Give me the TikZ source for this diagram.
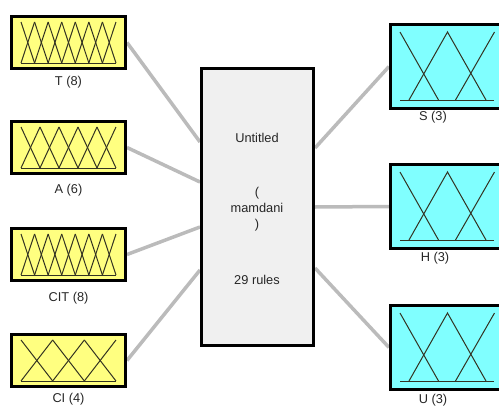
\documentclass[tikz,border=0pt]{standalone}
\usepackage{fontspec}
\setmainfont{Liberation Sans}
\usetikzlibrary{calc}
\definecolor{inyellow}{HTML}{FFFF80}
\definecolor{outcyan}{HTML}{80FFFF}
\definecolor{boxgray}{HTML}{F0F0F0}
\definecolor{linkgray}{HTML}{BBBBBB}
\definecolor{mfline}{HTML}{333322}
\tikzset{
  inbox/.style={draw=black, line width=3pt, fill=inyellow, minimum width=114pt, minimum height=52pt, inner sep=0pt},
  outbox/.style={draw=black, line width=3pt, fill=outcyan, minimum width=114pt, minimum height=84pt, inner sep=0pt},
  rulebox/.style={draw=black, line width=3pt, fill=boxgray, minimum width=112pt, minimum height=277pt, inner sep=0pt},
  link/.style={draw=linkgray, line width=3.5pt},
  lbl/.style={font=\fontsize{12.8}{15}\selectfont, text=black!85, inner sep=0pt},
  mf/.style={draw=mfline, line width=1pt}
}
\newcommand{\inmfs}[2]{% node name, number of MFs
  \begin{scope}[shift={(#1.center)}]
    \pgfmathsetmacro{\dd}{95/(#2-1)}
    \pgfmathtruncatemacro{\last}{#2-1}
    \draw[mf] (-47.5,20.5) -- (47.5,20.5);
    \foreach \i in {0,...,\last}{
      \pgfmathsetmacro{\px}{-47.5+\i*\dd}
      \ifnum\i>0 \draw[mf] (\px,-20.5) -- ({\px-\dd},20.5);\fi
      \ifnum\i<\last \draw[mf] (\px,-20.5) -- ({\px+\dd},20.5);\fi
    }
  \end{scope}}
\newcommand{\outmfs}[1]{%
  \begin{scope}[shift={(#1.center)}]
    \draw[mf] (-47.5,33.5) -- (46,33.5);
    \draw[mf] (-47.5,-34.5) -- (-9,33.5);
    \draw[mf] (-38.5,33.5) -- (0,-34.5) -- (38.5,33.5);
    \draw[mf] (8,33.5) -- (47,-34.5);
  \end{scope}}
\begin{document}
\begin{tikzpicture}[x=1pt,y=-1pt]
  \useasboundingbox (0,0) rectangle (499,407);
  \clip (0,0) rectangle (499,407);
  % nodes
  \node[inbox] (T) at (68.5,42.5) {};
  \node[inbox] (A) at (68.5,147.5) {};
  \node[inbox] (CIT) at (68.5,254.5) {};
  \node[inbox] (CI) at (68.5,360.5) {};
  \node[rulebox] (M) at (257.5,207) {};
  \node[outbox] (S) at (447.5,66.5) {};
  \node[outbox] (H) at (447.5,206.5) {};
  \node[outbox] (U) at (447.5,347.5) {};
  % connectors
  \draw[link] (T.east) -- ([yshift=65pt]M.west);
  \draw[link] (A.east) -- ([yshift=25pt]M.west);
  \draw[link] (CIT.east) -- ([yshift=-20pt]M.west);
  \draw[link] (CI.east) -- ([yshift=-63pt]M.west);
  \draw[link] ([yshift=59pt]M.east) -- (S.west);
  \draw[link] (M.east) -- (H.west);
  \draw[link] ([yshift=-61pt]M.east) -- (U.west);
  % redraw boxes on top of connectors
  \node[inbox] at (T) {};
  \node[inbox] at (A) {};
  \node[inbox] at (CIT) {};
  \node[inbox] at (CI) {};
  \node[rulebox] at (M) {};
  \node[outbox] at (S) {};
  \node[outbox] at (H) {};
  \node[outbox] at (U) {};
  % membership functions
  \inmfs{T}{8}
  \inmfs{A}{6}
  \inmfs{CIT}{8}
  \inmfs{CI}{4}
  \outmfs{S}
  \outmfs{H}
  \outmfs{U}
  % labels
  \node[lbl] (lT) at (68.5,82) {T (8)};
  \node[lbl] (lA) at (68.5,190) {A (6)};
  \node[lbl] (lCIT) at (68.5,298) {CIT (8)};
  \node[lbl] (lCI) at (68.5,399) {CI (4)};
  \node[lbl] (lS) at (433,117) {S (3)};
  \node[lbl] (lH) at (435,258) {H (3)};
  \node[lbl] (lU) at (433,400) {U (3)};
  \node[lbl] (m1) at (257,138) {Untitled};
  \node[lbl] (m2) at (257,193) {(};
  \node[lbl] (m3) at (257,208) {mamdani};
  \node[lbl] (m4) at (257,225) {)};
  \node[lbl] (m5) at (257,280) {29 rules};
\end{tikzpicture}
\end{document}
